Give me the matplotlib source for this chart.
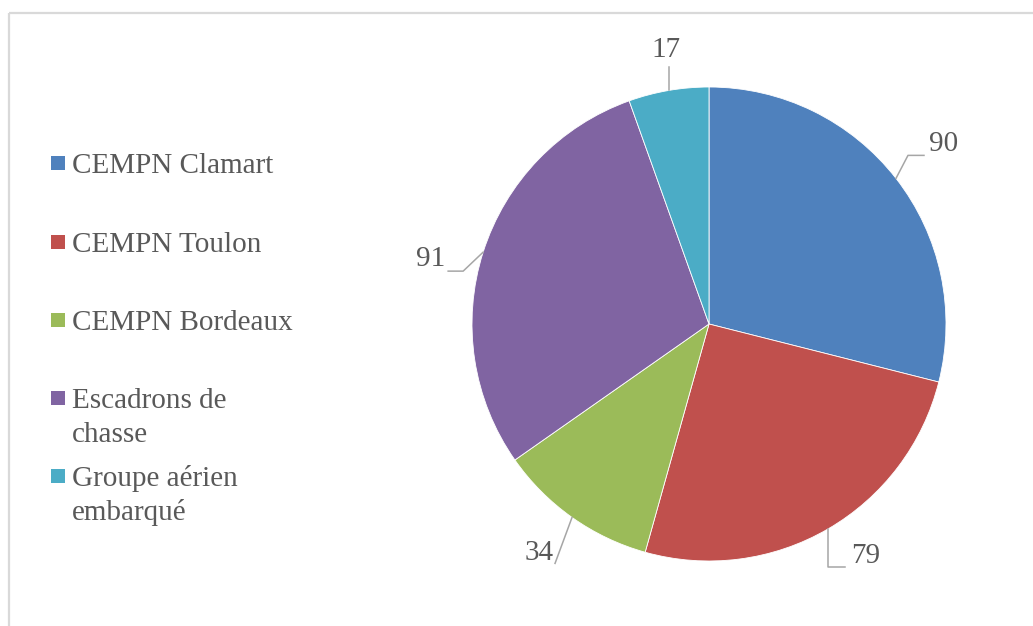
import numpy as np
import matplotlib
matplotlib.use("Agg")
from matplotlib import pyplot as plt
from matplotlib.patches import Rectangle

# data
labels = ["CEMPN Clamart", "CEMPN Toulon", "CEMPN Bordeaux",
          "Escadrons de\nchasse", "Groupe aérien\nembarqué"]
values = [90, 79, 34, 91, 17]
colors = ["#4F81BD", "#C0504D", "#9BBB59", "#8064A2", "#4BACC6"]

W, H = 1033, 626
plt.rcParams['font.family'] = ['Liberation Serif', 'DejaVu Serif']
txt_color = "#595959"
line_color = "#A6A6A6"
fs = 21

fig = plt.figure(figsize=(W / 100, H / 100), dpi=100)
ax = fig.add_axes([0, 0, 1, 1])
ax.set_xlim(0, W)
ax.set_ylim(0, H)
ax.set_aspect('equal')
ax.axis('off')

# frame (light grey, runs off right and bottom)
ax.plot([8.5, W], [H - 13, H - 13], color="#D9D9D9", lw=1.6, solid_capstyle='butt')
ax.plot([8.5, 8.5], [H - 13, 0], color="#D9D9D9", lw=1.6, solid_capstyle='butt')

cx, cy, r = 709, H - 324, 237
wedges, _ = ax.pie(values, colors=colors, startangle=90, counterclock=False,
                   center=(cx, cy), radius=r,
                   wedgeprops=dict(edgecolor='white', linewidth=0.6))
ax.set_xlim(0, W)
ax.set_ylim(0, H)

# leader line elbows (relative to edge point, pixel units, y down) and text offsets
leaders = [
    ([(12, -23), (28, -23)], (48, -35)),
    ([(0, 38), (17, 38)], (38, 26)),
    ([(-17, 46)], (-33, 35)),
    ([(-20, 19), (-35, 19)], (-53, 6)),
    ([(0, -23)], (-3, -41)),
]

for w, v, (pts, toff) in zip(wedges, values, leaders):
    mid = np.radians((w.theta1 + w.theta2) / 2)
    ex, ey = cx + r * np.cos(mid), cy + r * np.sin(mid)
    xs = [ex] + [ex + p[0] for p in pts]
    ys = [ey] + [ey - p[1] for p in pts]
    ax.plot(xs, ys, color=line_color, lw=1.1)
    ax.text(ex + toff[0], ey - toff[1] - 1, str(v), fontsize=fs, color=txt_color,
            ha='center', va='center')

# legend drawn by hand so the swatch lines up with the first line of text
rows_y = [163, 242, 320, 398, 476]
for lab, c, y in zip(labels, colors, rows_y):
    ax.add_patch(Rectangle((51, H - y - 7), 14, 14, facecolor=c, edgecolor='none'))
    for i, part in enumerate(lab.split("\n")):
        ax.text(72, H - y - 10 - 34 * i, part, fontsize=fs, color=txt_color,
                ha='left', va='baseline')

fig.savefig("out.png", dpi=100)
